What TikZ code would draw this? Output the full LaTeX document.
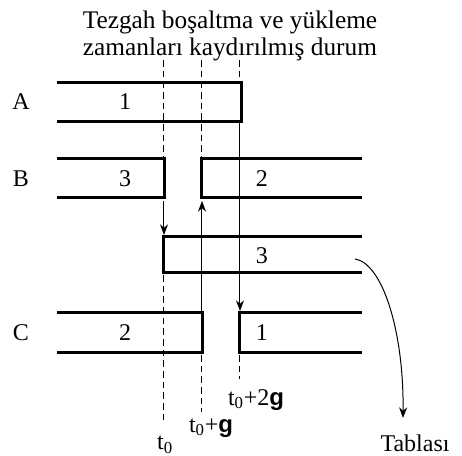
\documentclass[tikz,border=0pt]{standalone}
\usepackage{fontspec}
\setmainfont{Liberation Serif}
\newfontfamily\gfont{Liberation Sans}
\usetikzlibrary{arrows.meta}

\tikzset{
    bar/.style={line width=2.25pt, line join=miter},
    tick/.style={line width=0.75pt, dash pattern=on 5pt off 3pt},
    flow/.style={line width=0.75pt, -{Stealth[length=8pt,width=6pt]}},
}
\newcommand{\gsym}{{\gfont\bfseries g}}

\begin{document}
\begin{tikzpicture}[x=0.75pt, y=-0.75pt, font=\fontsize{18}{20}\selectfont]
    \useasboundingbox (0,0) rectangle (462,456);

    % title
    \node (title) [align=center, inner sep=0pt, font=\fontsize{19}{20.5}\selectfont] at (230,36) {Tezgah boşaltma ve yükleme\\zamanları kaydırılmış durum};

    % machine rows
    \node (A) at (21,102) {A};
    \node (B) at (21,179) {B};
    \node (C) at (21,333) {C};

    \draw[bar] (57,83) -- (242,83) -- (242,122) -- (57,122);
    \draw[bar] (57,159) -- (165,159) -- (165,198) -- (57,198);
    \draw[bar] (362,159) -- (202,159) -- (202,198) -- (362,198);
    \draw[bar] (362,237) -- (164,237) -- (164,273) -- (362,273);
    \draw[bar] (57,313) -- (203,313) -- (203,353) -- (57,353);
    \draw[bar] (362,313) -- (240,313) -- (240,353) -- (362,353);

    \begin{scope}[every node/.style={inner sep=0pt}]
        \node (a1) at (125,102) {1};
        \node (b3) at (125,179) {3};
        \node (b2) at (262,179) {2};
        \node (m3) at (262,256) {3};
        \node (c2) at (125,333) {2};
        \node (c1) at (262,333) {1};
    \end{scope}

    % time marks
    \coordinate (p0a) at (164,60);  \coordinate (p0b) at (164,159);
    \coordinate (p0c) at (164,201); \coordinate (p0d) at (164,235);
    \coordinate (p0e) at (164,275); \coordinate (p0f) at (164,424);
    \coordinate (p1a) at (202,60);  \coordinate (p1b) at (202,159);
    \coordinate (p1c) at (202,311); \coordinate (p1d) at (202,201);
    \coordinate (p1e) at (202,355); \coordinate (p1f) at (202,412);
    \coordinate (p2a) at (240,60);  \coordinate (p2b) at (240,83);
    \coordinate (p2c) at (240,122); \coordinate (p2d) at (240,311);
    \coordinate (p2e) at (240,355); \coordinate (p2f) at (240,379);

    \draw[tick] (p0a) -- (p0b);
    \draw[flow] (p0c) -- (p0d);
    \draw[tick] (p0e) -- (p0f);
    \draw[tick] (p1a) -- (p1b);
    \draw[flow] (p1c) -- (p1d);
    \draw[tick] (p1e) -- (p1f);
    \draw[tick] (p2a) -- (p2b);
    \draw[flow] (p2c) -- (p2d);
    \draw[tick] (p2e) -- (p2f);

    \node (t0) at (165,445) {t\textsubscript{0}};
    \node (t1) at (211,428) {t\textsubscript{0}+\gsym};
    \node (t2) at (256,400) {t\textsubscript{0}+2\gsym};

    % part leaving to the table
    \coordinate (out) at (355,259);
    \coordinate (in) at (403,418);
    \node (tab) at (415,443) {Tablası};
    \draw[flow] (out) .. controls (382,263) and (404,330) .. (in);
\end{tikzpicture}
\end{document}
